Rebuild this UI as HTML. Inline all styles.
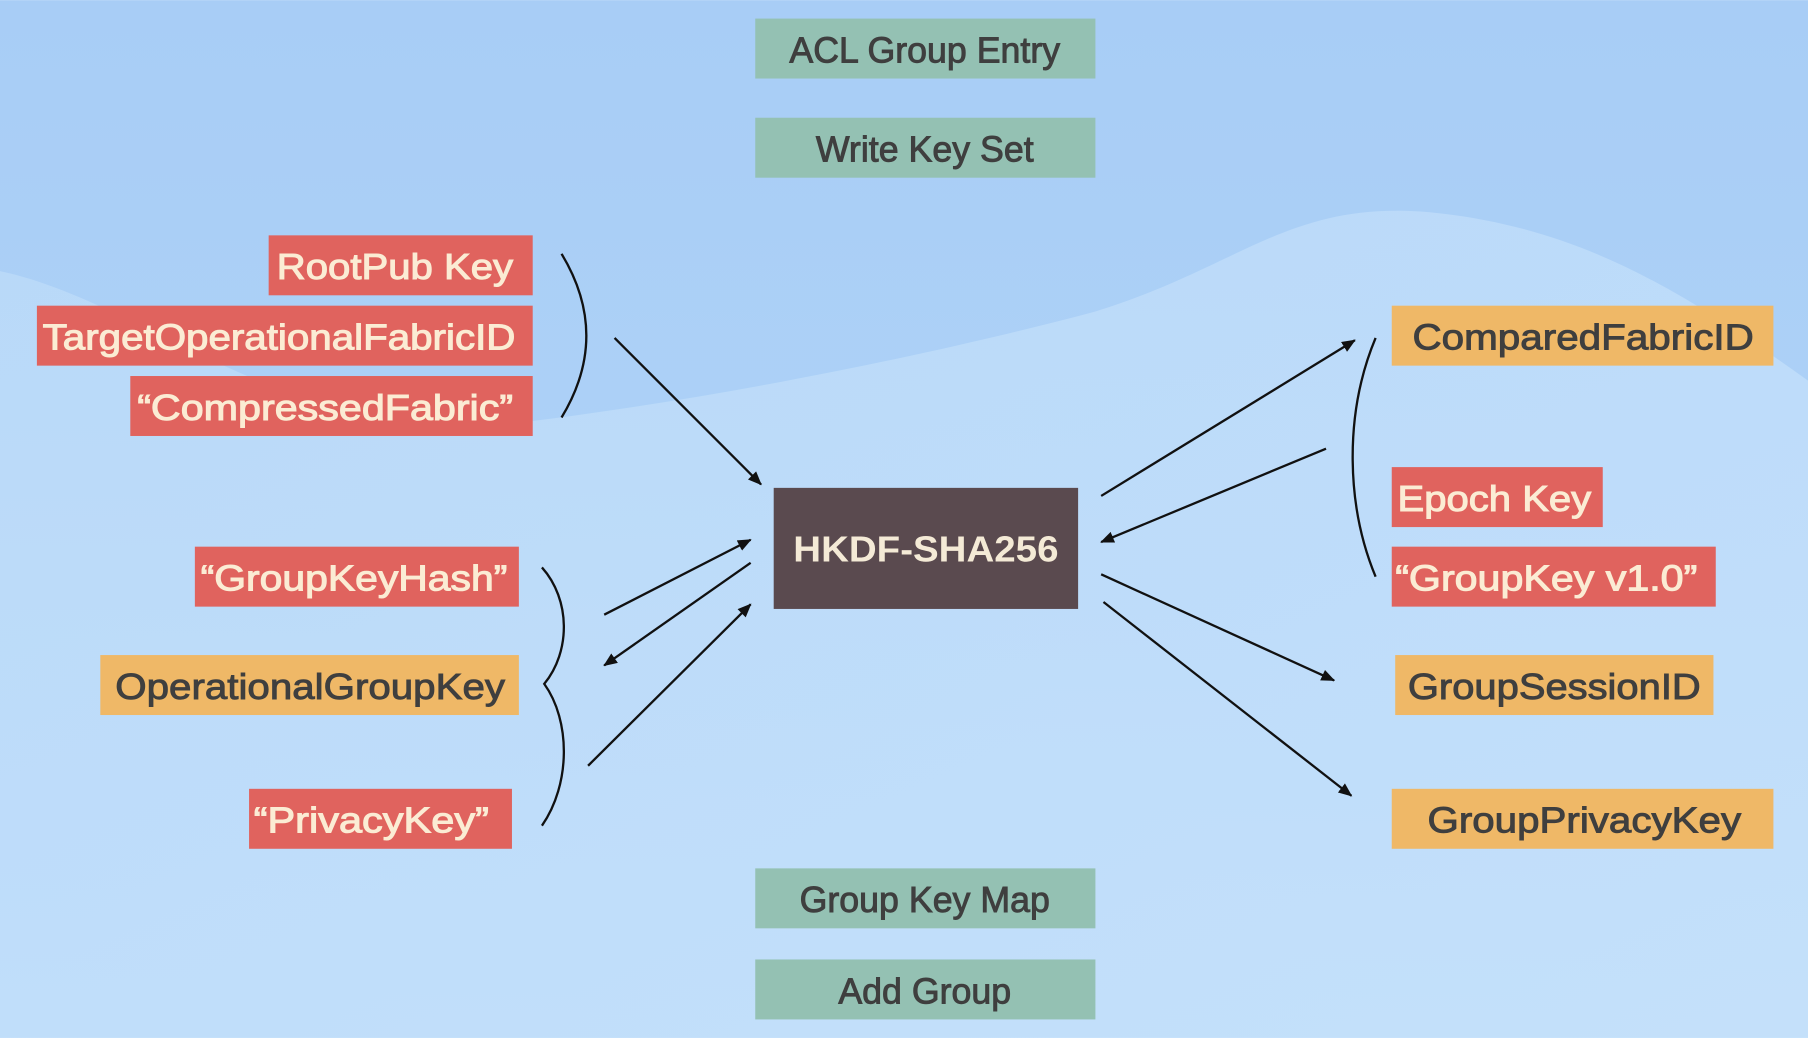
<!DOCTYPE html>
<html><head><meta charset="utf-8"><style>
html,body{margin:0;padding:0;width:1808px;height:1038px;overflow:hidden;}
svg{display:block}
text{font-family:"Liberation Sans",sans-serif;font-size:31px;}
.w{fill:#fbecd4;stroke:#fbecd4;stroke-width:0.9}
.d{fill:#3f3f3f;stroke:#3f3f3f;stroke-width:0.8}
.ln{stroke:#111;stroke-width:2;fill:none}
</style></head><body>
<svg width="1808" height="1038" viewBox="0 0 1568 900" xmlns="http://www.w3.org/2000/svg">
<defs>
<linearGradient id="bg" x1="0" y1="0" x2="0" y2="1">
<stop offset="0" stop-color="#a8cdf6"/><stop offset="1" stop-color="#b3d6f8"/></linearGradient>
<linearGradient id="wv" x1="0" y1="0" x2="1" y2="1">
<stop offset="0" stop-color="#c2dffa"/><stop offset="1" stop-color="#cfe7fc"/></linearGradient>
<marker id="a" markerWidth="12" markerHeight="10" refX="11" refY="5" orient="auto" markerUnits="userSpaceOnUse">
<path d="M0,0 L12,5 L0,10 z" fill="#111"/></marker>
</defs>
<rect width="1568" height="900" fill="url(#bg)"/>
<path d="M0,235 C120,260 250,380 420,370 C600,350 800,310 950,270 C1080,230 1120,170 1250,185 C1380,200 1470,260 1568,330 L1568,900 L0,900 Z" fill="url(#wv)" opacity="0.6"/>

<g>
<rect x="655" y="16" width="295" height="52" fill="#94c1b3"/>
<text class="d" x="802" y="54" text-anchor="middle">ACL Group Entry</text>
<rect x="655" y="102" width="295" height="52" fill="#94c1b3"/>
<text class="d" x="802" y="140" text-anchor="middle">Write Key Set</text>
<rect x="655" y="753" width="295" height="52" fill="#94c1b3"/>
<text class="d" x="802" y="791" text-anchor="middle">Group Key Map</text>
<rect x="655" y="832" width="295" height="52" fill="#94c1b3"/>
<text class="d" x="802" y="870" text-anchor="middle">Add Group</text>

<rect x="233" y="204" width="229" height="52" fill="#e0635e"/>
<text class="w" x="445" y="242" text-anchor="end" textLength="205" lengthAdjust="spacingAndGlyphs">RootPub Key</text>
<rect x="32" y="265" width="430" height="52" fill="#e0635e"/>
<text class="w" x="447" y="303" text-anchor="end" textLength="410" lengthAdjust="spacingAndGlyphs">TargetOperationalFabricID</text>
<rect x="113" y="326" width="349" height="52" fill="#e0635e"/>
<text class="w" x="445" y="364" text-anchor="end" textLength="326" lengthAdjust="spacingAndGlyphs">“CompressedFabric”</text>

<rect x="169" y="474" width="281" height="52" fill="#e0635e"/>
<text class="w" x="440" y="512" text-anchor="end" textLength="266" lengthAdjust="spacingAndGlyphs">“GroupKeyHash”</text>
<rect x="87" y="568" width="363" height="52" fill="#efb867"/>
<text class="d" x="438" y="606" text-anchor="end" textLength="338" lengthAdjust="spacingAndGlyphs">OperationalGroupKey</text>
<rect x="216" y="684" width="228" height="52" fill="#e0635e"/>
<text class="w" x="424" y="722" text-anchor="end" textLength="204" lengthAdjust="spacingAndGlyphs">“PrivacyKey”</text>

<rect x="671" y="423" width="264" height="105" fill="#5a4a4f"/>
<text x="803" y="487" text-anchor="middle" font-weight="bold" fill="#f4ead6" textLength="230" lengthAdjust="spacingAndGlyphs">HKDF-SHA256</text>

<rect x="1207" y="265" width="331" height="52" fill="#efb867"/>
<text class="d" x="1225" y="303" textLength="296" lengthAdjust="spacingAndGlyphs">ComparedFabricID</text>
<rect x="1207" y="405" width="183" height="52" fill="#e0635e"/>
<text class="w" x="1212" y="443" textLength="168" lengthAdjust="spacingAndGlyphs">Epoch Key</text>
<rect x="1207" y="474" width="281" height="52" fill="#e0635e"/>
<text class="w" x="1210" y="512" textLength="262" lengthAdjust="spacingAndGlyphs">“GroupKey v1.0”</text>
<rect x="1210" y="568" width="276" height="52" fill="#efb867"/>
<text class="d" x="1221" y="606" textLength="254" lengthAdjust="spacingAndGlyphs">GroupSessionID</text>
<rect x="1207" y="684" width="331" height="52" fill="#efb867"/>
<text class="d" x="1238" y="722" textLength="272" lengthAdjust="spacingAndGlyphs">GroupPrivacyKey</text>
</g>

<path class="ln" d="M487,220 Q530,291 487,362"/>
<path class="ln" d="M470,492 C495,520 495,565 472,593 C495,625 495,680 470,716"/>
<path class="ln" d="M1193,293 C1165,360 1168,440 1193,500"/>

<g class="ln" marker-end="url(#a)">
<line x1="533" y1="293" x2="660" y2="420"/>
<line x1="524" y1="533" x2="651" y2="468"/>
<line x1="651" y1="488" x2="524" y2="577"/>
<line x1="510" y1="664" x2="651" y2="524"/>
<line x1="955" y1="430" x2="1175" y2="295"/>
<line x1="1150" y1="389" x2="955" y2="470"/>
<line x1="955" y1="498" x2="1157" y2="590"/>
<line x1="957" y1="522" x2="1172" y2="690"/>
</g>
</svg>
</body></html>
